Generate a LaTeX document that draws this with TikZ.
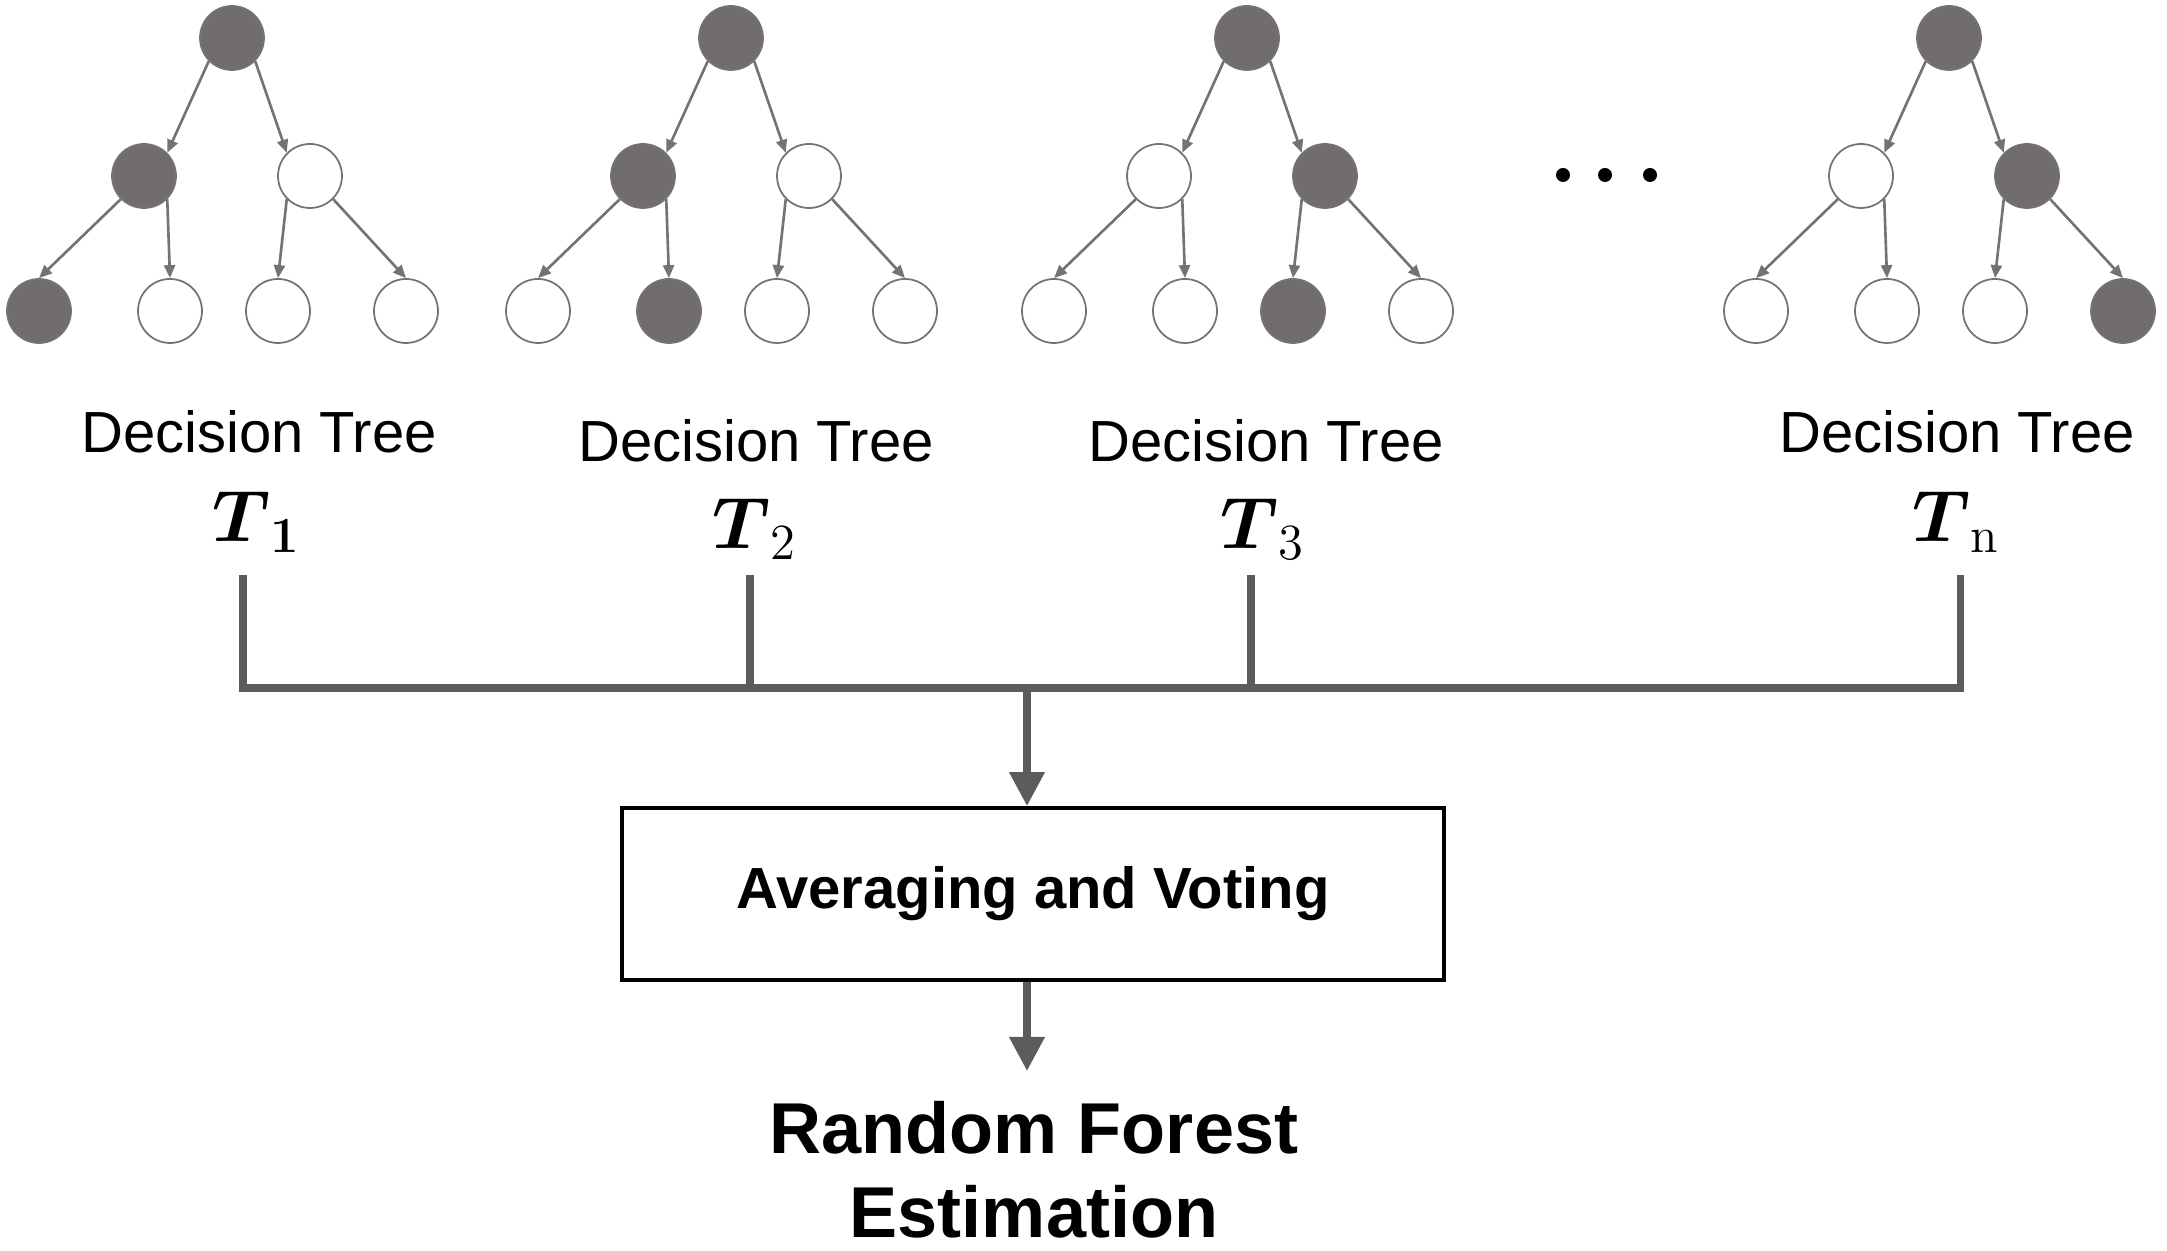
\documentclass[tikz,border=0pt]{standalone}
\usepackage{amsmath,amssymb}
\usepackage{xcolor,tikz}
\usepackage[no-math]{fontspec}
\setmainfont{Liberation Sans}
\usetikzlibrary{arrows.meta,positioning,calc}
\definecolor{dk}{RGB}{113,109,109}
\definecolor{edgegray}{RGB}{115,115,115}
\definecolor{busgray}{RGB}{92,92,92}
\tikzset{
  nd/.style={circle,minimum size=6.4mm,inner sep=0pt,fill=#1,draw=black!55,line width=0.5pt},
  edge/.style={-{Triangle[length=1.3mm,width=1.1mm]},draw=edgegray,line width=0.75pt},
  bus/.style={draw=busgray,line width=2pt},
  arr/.style={-{Triangle[length=3.4mm,width=3.4mm]},draw=busgray,line width=2pt},
  dtlab/.style={font=\fontsize{16.5}{19}\selectfont,anchor=base,inner sep=0pt},
  tlab/.style={font=\fontsize{21}{25}\selectfont,anchor=base,inner sep=0pt},
  avgbox/.style={draw=black,line width=1.1pt,minimum width=8.22cm,minimum height=1.72cm,font=\fontsize{16.5}{19}\selectfont\bfseries},
  outlab/.style={font=\fontsize{20.5}{23.9}\selectfont\bfseries,align=center,anchor=north,inner sep=3mm},
  dot/.style={circle,fill=black,inner sep=0pt,minimum size=1.4mm}
}

\begin{document}
\begin{tikzpicture}
  \useasboundingbox (0,0) rectangle (21.67,-12.51);
  % the four trees: root x, then fills of the two inner nodes and the four leaves
  \foreach \i/\x/\ca/\cb/\la/\lb/\lc/\ld in {1/2.32/dk/white/dk/white/white/white,
      2/7.31/dk/white/white/dk/white/white,
      3/12.47/white/dk/white/white/dk/white,
      4/19.49/white/dk/white/white/white/dk}{
    \node[nd=dk] (r\i) at (\x,-0.38) {};
    \node[nd=\ca] (p\i) at (\x-0.88,-1.76) {};
    \node[nd=\cb] (q\i) at (\x+0.78,-1.76) {};
    \node[nd=\la] (l\i a) at (\x-1.93,-3.11) {};
    \node[nd=\lb] (l\i b) at (\x-0.62,-3.11) {};
    \node[nd=\lc] (l\i c) at (\x+0.46,-3.11) {};
    \node[nd=\ld] (l\i d) at (\x+1.74,-3.11) {};
    \draw[edge] (r\i.south west) -- (p\i.north east);
    \draw[edge] (r\i.south east) -- (q\i.north west);
    \draw[edge] (p\i.south west) -- (l\i a.north);
    \draw[edge] (p\i.south east) -- (l\i b.north);
    \draw[edge] (q\i.south west) -- (l\i c.north);
    \draw[edge] (q\i.south east) -- (l\i d.north);
  }
  \foreach \k/\xx in {1/15.63,2/16.05,3/16.50}
    \node[dot] (e\k) at (\xx,-1.75) {};

  \node[dtlab] (d1) at (2.59,-4.53) {Decision Tree};
  \node[dtlab] (d2) at (7.56,-4.62) {Decision Tree};
  \node[dtlab] (d3) at (12.66,-4.62) {Decision Tree};
  \node[dtlab] (d4) at (19.57,-4.53) {Decision Tree};
  \node[tlab] (t1) at (2.57,-5.42) {$\boldsymbol{T}_{\mathbf{1}}$};
  \node[tlab] (t2) at (7.55,-5.49) {$\boldsymbol{T}_{2}$};
  \node[tlab] (t3) at (12.63,-5.49) {$\boldsymbol{T}_{3}$};
  \node[tlab] (t4) at (19.56,-5.42) {$\boldsymbol{T}_{\mathrm{n}}$};

  % collecting bus
  \coordinate (s1) at (2.43,-5.75);
  \coordinate (s2) at (7.50,-5.75);
  \coordinate (s3) at (12.51,-5.75);
  \coordinate (s4) at (19.60,-5.75);
  \coordinate (c) at (10.27,-6.88);
  \draw[bus] (s1) |- (c) -| (s4);
  \draw[bus] (s2) -- (s2 |- c);
  \draw[bus] (s3) -- (s3 |- c);

  \node[avgbox] (avg) at (10.33,-8.94) {Averaging and Voting};
  \node[outlab] (rf) at (10.34,-10.71) {Random Forest\\Estimation};
  \draw[arr] (c) -- (c |- avg.north);
  \draw[arr] (c |- avg.south) -- (c |- rf.north);
\end{tikzpicture}
\end{document}
